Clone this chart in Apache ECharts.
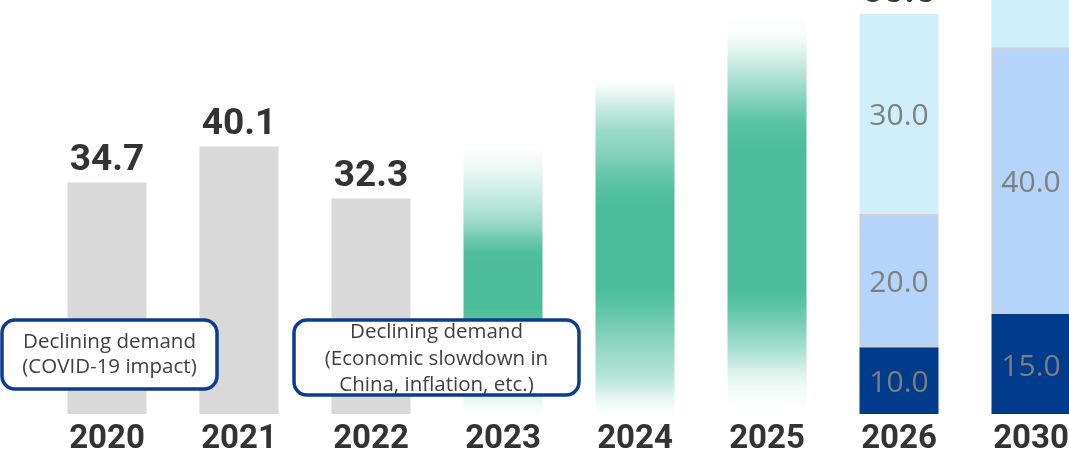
<!DOCTYPE html>
<html>
<head>
<meta charset="utf-8">
<script src="https://cdn.jsdelivr.net/npm/echarts@6/dist/echarts.min.js"></script>
<style>
  html, body { margin: 0; padding: 0; background: #ffffff; }
  #chart { width: 1069px; height: 452px; }
</style>
</head>
<body>
<div id="chart"></div>
<script>
// Demand by year (actual, outlook band, and scenario split)
const years = ['2020', '2021', '2022', '2023', '2024', '2025', '2026', '2030'];
const actual = [34.7, 40.1, 32.3, null, null, null, null, null];
const outlook = [null, null, null, 40, 50, 60, null, null];
const tierLow = [null, null, null, null, null, null, 10, 15];
const tierMid = [null, null, null, null, null, null, 20, 40];
const tierHigh = [null, null, null, null, null, null, 30, 30];
const noteCovid = ['Declining demand', '(COVID-19 impact)'];
const noteChina = ['Declining demand', '(Economic slowdown in', 'China, inflation, etc.)'];

// Opacity profiles for the soft outlook bars: [offset from top, alpha]
const fadeProfiles = {
  '2023': [[0, 0], [0.074, 0.1], [0.2, 0.35], [0.27, 0.52], [0.31, 0.66], [0.35, 0.84], [0.39, 0.96], [0.43, 1],
           [0.6, 1], [0.66, 0.9], [0.74, 0.72], [0.855, 0.4], [0.95, 0.12], [1, 0]],
  '2024': [[0, 0], [0.045, 0.15], [0.09, 0.35], [0.15, 0.55], [0.22, 0.68], [0.28, 0.84], [0.33, 0.95], [0.38, 1],
           [0.62, 1], [0.67, 0.92], [0.72, 0.8], [0.8, 0.6], [0.87, 0.45], [0.91, 0.33], [0.95, 0.15], [1, 0]],
  '2025': [[0, 0], [0.05, 0.03], [0.075, 0.1], [0.135, 0.35], [0.185, 0.55], [0.23, 0.75], [0.27, 0.9], [0.31, 0.97], [0.35, 1],
           [0.69, 1], [0.73, 0.9], [0.77, 0.76], [0.808, 0.6], [0.858, 0.4], [0.89, 0.22], [0.933, 0.08], [0.973, 0.02], [1, 0]]
};

const GREEN = '75,189,155';
function fadeFill(profile) {
  return {
    type: 'linear', x: 0, y: 0, x2: 0, y2: 1,
    colorStops: profile.map(([o, a]) => ({ offset: o, color: 'rgba(' + GREEN + ',' + a + ')' }))
  };
}

const BAR_W = 79;
const numFont = 'Roboto, "Liberation Sans", sans-serif';
const txtFont = '"Open Sans", "Noto Sans", sans-serif';
const fmt = p => (p.value == null ? '' : Number(p.value).toFixed(1));

const totals = years.map((y, i) =>
  tierLow[i] == null ? null : tierLow[i] + tierMid[i] + tierHigh[i]);

const segLabel = {
  show: true, position: 'inside', offset: [0, 3], formatter: fmt,
  fontFamily: txtFont, fontSize: 30, color: '#7f7f7f'
};
const topLabel = {
  show: true, position: 'top', distance: 3, formatter: fmt,
  fontFamily: numFont, fontWeight: 'bold', fontSize: 37, color: '#333333'
};

const chart = echarts.init(document.getElementById('chart'), null, { renderer: 'canvas' });

function noteGraphic(x, y, w, h, lines, lineH, textTop) {
  return {
    type: 'group', z: 100,
    children: [
      {
        type: 'rect', z: 100, shape: { x: x, y: y, width: w, height: h, r: 13 },
        style: { fill: '#ffffff', stroke: '#0a3d8f', lineWidth: 3.5 }
      },
      {
        type: 'text', z: 101, x: x + w / 2, y: textTop,
        style: {
          text: lines.join('\n'), align: 'center', verticalAlign: 'top',
          font: '20.5px ' + txtFont, lineHeight: lineH, fill: '#404040'
        }
      }
    ]
  };
}

chart.setOption({
  animation: false,
  backgroundColor: '#ffffff',
  grid: {
    left: 41, right: -28, bottom: 38, top: -253,
    outerBoundsMode: 'none', containLabel: false
  },
  xAxis: {
    type: 'category', data: years,
    axisLine: { show: false }, axisTick: { show: false },
    axisLabel: {
      margin: 9, fontFamily: numFont, fontWeight: 'bold', fontSize: 33, color: '#333333'
    }
  },
  yAxis: {
    type: 'value', min: 0, max: 100, show: false, splitLine: { show: false }
  },
  series: [
    {
      name: 'Actual', type: 'bar', stack: 'demand', barWidth: BAR_W, barGap: '-100%',
      data: actual, itemStyle: { color: '#d9d9d9' }, label: topLabel
    },
    {
      name: 'Outlook', type: 'bar', stack: 'demand', barWidth: BAR_W, barGap: '-100%',
      data: outlook.map((v, i) => v == null ? null : {
        value: v, itemStyle: { color: fadeFill(fadeProfiles[years[i]]) }
      })
    },
    {
      name: 'Low', type: 'bar', stack: 'demand', barWidth: BAR_W, barGap: '-100%',
      data: tierLow, itemStyle: { color: '#003b8c' }, label: segLabel
    },
    {
      name: 'Mid', type: 'bar', stack: 'demand', barWidth: BAR_W, barGap: '-100%',
      data: tierMid, itemStyle: { color: '#b4d4fb', borderColor: '#cfcfcf', borderWidth: 1.5 },
      label: segLabel
    },
    {
      name: 'High', type: 'bar', stack: 'demand', barWidth: BAR_W, barGap: '-100%',
      data: tierHigh, itemStyle: { color: '#cff0fb' }, label: segLabel
    },
    {
      name: 'Total', type: 'bar', barWidth: BAR_W, barGap: '-100%',
      data: totals, itemStyle: { color: 'rgba(0,0,0,0)' }, label: topLabel, silent: true
    }
  ],
  graphic: [
    noteGraphic(2, 320, 215, 69, noteCovid, 25, 330),
    noteGraphic(294, 320, 285, 75, noteChina, 26.5, 319)
  ]
});
</script>
</body>
</html>
